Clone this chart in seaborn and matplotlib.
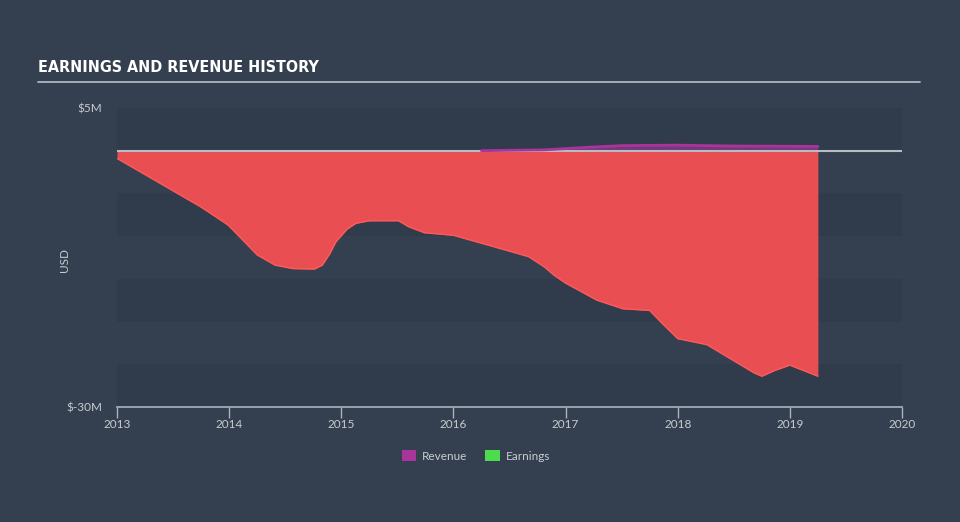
import matplotlib
matplotlib.use("Agg")
import matplotlib.pyplot as plt
import seaborn as sns
import pandas as pd
import numpy as np
from matplotlib.patches import Patch

# ---- data (values in $M) ----
earn_years = [2013.0, 2013.25, 2013.5, 2013.75, 2013.99, 2014.11, 2014.25, 2014.41, 2014.57, 2014.76,
              2014.83, 2014.9, 2014.95, 2015.05, 2015.13, 2015.25, 2015.51, 2015.6, 2015.74, 2016.0,
              2016.35, 2016.67, 2016.81, 2016.9, 2017.0, 2017.28, 2017.51, 2017.75, 2017.86, 2018.0,
              2018.26, 2018.54, 2018.68, 2018.75, 2018.87, 2019.0, 2019.25]
earn_vals = [-0.9, -2.8, -4.7, -6.6, -8.7, -10.3, -12.2, -13.4, -13.8, -13.85,
             -13.4, -12.0, -10.7, -9.2, -8.5, -8.2, -8.2, -8.9, -9.6, -9.9,
             -11.2, -12.4, -13.6, -14.6, -15.5, -17.5, -18.5, -18.7, -20.2, -22.0,
             -22.7, -24.9, -26.0, -26.4, -25.7, -25.1, -26.4]

rev_years = [2016.25, 2016.5, 2016.81, 2017.2, 2017.51, 2017.98, 2018.5, 2019.0, 2019.25]
rev_vals = [0.0, 0.05, 0.1, 0.4, 0.6, 0.65, 0.55, 0.52, 0.5]

x_ticks = [2013, 2014, 2015, 2016, 2017, 2018, 2019, 2020]
y_tick_vals = [5, -30]
y_tick_labels = ["$5M", "$-30M"]

earn_df = pd.DataFrame({"year": earn_years, "value": earn_vals})
rev_df = pd.DataFrame({"year": rev_years, "value": rev_vals})

BG = "#34404f"
BAND = "#303c4b"
TXT = "#c8ccd2"
AXC = "#aab2bc"
RED_FILL = "#e84e52"
RED_LINE = "#ff5a5a"
PURPLE = "#a8359a"
GREEN = "#4ddc4b"

sns.set_theme(style="dark")
plt.rcParams["font.family"] = ["Lato", "DejaVu Sans"]

fig = plt.figure(figsize=(9.6, 5.22), dpi=100, facecolor=BG)
ax = fig.add_axes([117/960, 1-407/522, (902-117)/960, (407-108)/522])
ax.set_facecolor(BG)

# horizontal bands every 5M
for lo in [0, -10, -20, -30]:
    ax.axhspan(lo, lo + 5, color=BAND, lw=0, zorder=0)

# earnings area
ax.fill_between(earn_df["year"], earn_df["value"], 0, color=RED_FILL, lw=0, zorder=2)
sns.lineplot(data=earn_df, x="year", y="value", ax=ax, color=RED_LINE, lw=1.0, zorder=3)

# revenue area
ax.fill_between(rev_df["year"], rev_df["value"], 0, color=PURPLE, alpha=0.6, lw=0, zorder=4)
sns.lineplot(data=rev_df, x="year", y="value", ax=ax, color=PURPLE, lw=2.0, zorder=5)

# zero line
ax.axhline(0, color="#b5bcc4", lw=1.5, zorder=4.5)

ax.set_xlim(2013, 2020)
ax.set_ylim(-30, 5)
ax.set_xticks(x_ticks)
ax.set_xticklabels([str(t) for t in x_ticks])
ax.set_yticks(y_tick_vals)
ax.set_yticklabels(y_tick_labels)
ax.tick_params(axis="x", bottom=True, colors=TXT, labelsize=8.5, length=8, width=1,
               direction="out", pad=1, color=AXC)
ax.tick_params(axis="y", left=False, colors=TXT, labelsize=8.5, length=0, pad=10.5)
ax.set_xlabel("")
ax.set_ylabel("USD", color=TXT, fontsize=8.5)
ax.yaxis.set_label_coords((70-117)/785, (407-260)/299)
for s in ["top", "right", "left"]:
    ax.spines[s].set_visible(False)
ax.spines["bottom"].set_color(AXC)
ax.spines["bottom"].set_linewidth(1.2)
ax.grid(False)
if ax.get_legend():
    ax.get_legend().remove()

# title and underline
fig.text(38/960, 1-67/522, "EARNINGS AND REVENUE HISTORY", color="white",
         fontsize=11.5, fontweight="bold", fontstretch="condensed",
         family=["DejaVu Sans"], va="center", ha="left")
fig.add_artist(plt.Line2D([38/960, 920/960], [1-82/522, 1-82/522], color="#b0b6be", lw=1.3))

# legend
handles = [Patch(facecolor=PURPLE, edgecolor="none", label="Revenue"),
           Patch(facecolor=GREEN, edgecolor="none", label="Earnings")]
fig.legend(handles=handles, loc="center", bbox_to_anchor=(476/960, 1-456/522), ncol=2,
           frameon=False, fontsize=8.5, labelcolor=TXT, handlelength=1.2, handleheight=1.0,
           columnspacing=1.5, handletextpad=0.5)

fig.savefig("out.png", dpi=100, facecolor=BG)
